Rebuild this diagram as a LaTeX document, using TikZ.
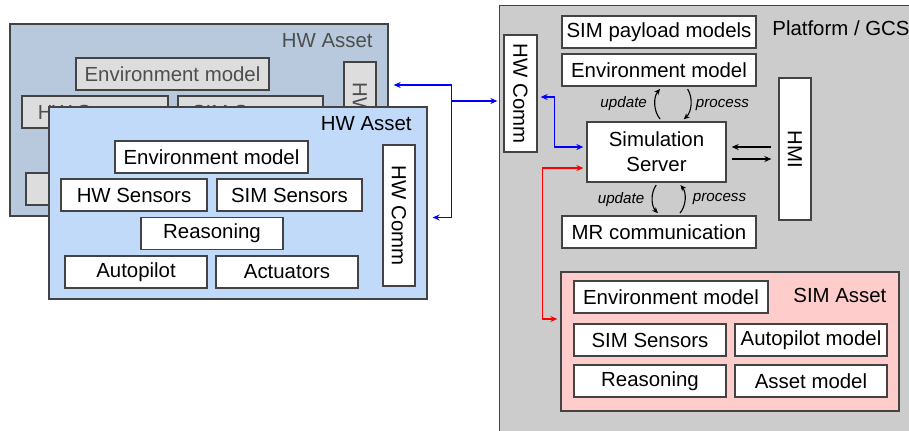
\documentclass[tikz,border=0pt]{standalone}
\usepackage{fontspec}
\setmainfont{Liberation Sans}
\usepackage{graphicx}
\usetikzlibrary{arrows.meta,positioning,calc}
\definecolor{hwBlue}{RGB}{193,218,249}
\definecolor{hwShade}{RGB}{184,201,222}
\definecolor{simPink}{RGB}{255,204,204}
\definecolor{gcsGrey}{RGB}{204,204,204}
\definecolor{boxGrey}{RGB}{221,221,221}
\definecolor{lineInk}{RGB}{67,67,67}
\definecolor{inkSoft}{RGB}{78,78,78}
\definecolor{linkBlue}{RGB}{0,0,255}
\definecolor{linkRed}{RGB}{255,0,0}

\begin{document}
\begin{tikzpicture}[x=0.5pt,y=-0.5pt,
  font=\fontsize{10.2}{12.5}\selectfont,
  panel/.style={draw=lineInk,line width=0.65pt,inner sep=0pt},
  blk/.style={draw=lineInk,fill=white,line width=0.65pt,inner sep=0pt,
              minimum height=16pt,align=center},
  ghost/.style={blk,fill=boxGrey,text=inkSoft},
  tag/.style={inner sep=0pt},
  lbl/.style={inner sep=0pt,font=\fontsize{7.6}{9}\selectfont\itshape},
  link/.style={{Stealth[length=3.5pt,width=3pt]}-{Stealth[length=3.5pt,width=3pt]},
               line width=0.7pt,shorten <=1.5pt,shorten >=1.5pt},
  arr/.style={-{Stealth[length=3.5pt,width=3pt]},line width=0.7pt},
  cyc/.style={-{Stealth[length=3pt,width=2.6pt]},line width=0.55pt,
              shorten <=1.5pt,shorten >=1.5pt}]
\useasboundingbox (0,0) rectangle (909,430);
\clip (0,0) rectangle (909,430);

% HW asset behind (mostly covered)
\node[panel,fill=hwShade,minimum width=189pt,minimum height=96pt] (hwBack) at (199,120) {};
\node[tag,anchor=east,text=inkSoft] (hwBackTag) at (373,41) {HW Asset};
\node[ghost,minimum width=96.5pt] (bEnv) at (172.5,74) {Environment model};
\node[ghost,minimum width=73pt] (bHWS) at (95,112) {HW Sensors};
\node[ghost,minimum width=72.5pt] (bSIMS) at (250.5,112) {SIM Sensors};
\node[ghost,minimum width=71pt] (bAuto) at (97,189) {};
\node[ghost,minimum width=16pt,minimum height=70.5pt] (bComm) at (360,132.5) {\rotatebox{-90}{HW Comm}};

% HW asset in front
\node[panel,fill=hwBlue,minimum width=189pt,minimum height=96pt] (hwFront) at (238,203) {};
\node[tag,anchor=east] (hwFrontTag) at (412,124) {HW Asset};
\node[blk,minimum width=96.5pt] (fEnv) at (211.5,157) {Environment model};
\node[blk,minimum width=73pt] (fHWS) at (134,195) {HW Sensors};
\node[blk,minimum width=72.5pt] (fSIMS) at (289.5,195) {SIM Sensors};
\node[blk,minimum width=71pt] (fReas) at (212,233.5) {Reasoning};
\node[blk,minimum width=71pt] (fAuto) at (136,272) {Autopilot};
\node[blk,minimum width=71pt] (fAct) at (287,272) {Actuators};
\node[blk,minimum width=16pt,minimum height=70.5pt] (fComm) at (399,215.5) {\rotatebox{-90}{HW Comm}};

% platform / GCS
\node[panel,fill=gcsGrey,minimum width=210pt,minimum height=218pt,anchor=north west] (gcs) at (499,5) {};
\node[tag,anchor=west] (gcsTag) at (772,28) {Platform / GCS};
\node[blk,minimum width=16.5pt,minimum height=58.5pt] (hwcP) at (520.5,93.5) {\rotatebox{-90}{HW Comm}};
\node[blk,minimum width=97pt] (payload) at (659,32) {SIM payload models};
\node[blk,minimum width=97pt] (envP) at (659,70) {Environment model};
\node[blk,minimum width=69.5pt,minimum height=30pt] (server) at (656.5,152) {Simulation\\Server};
\node[blk,minimum width=16pt,minimum height=71pt] (hmi) at (795,149) {\rotatebox{-90}{HMI}};
\node[blk,minimum width=97pt] (mrc) at (659,232) {MR communication};

% SIM asset
\node[panel,fill=simPink,minimum width=169pt,minimum height=69.5pt] (simA) at (730,341.5) {};
\node[tag,anchor=west] (simTag) at (793,295) {SIM Asset};
\node[blk,minimum width=97pt] (sEnv) at (671,297) {Environment model};
\node[blk,minimum width=76pt] (sSens) at (650,340) {SIM Sensors};
\node[blk,minimum width=76pt] (sAuto) at (811,340) {Autopilot model};
\node[blk,minimum width=76pt] (sReas) at (650,381) {Reasoning};
\node[blk,minimum width=76pt] (sAsset) at (811,381) {Asset model};

% update / process loops
\draw[cyc] ([xshift=2.75pt]server.north) to[bend left=40]
  node[lbl,left=4pt] (updUp) {update} ([xshift=1.5pt]envP.south);
\draw[cyc] ([xshift=13.5pt]envP.south) to[bend left=40]
  node[lbl,right=2.5pt] (procUp) {process} ([xshift=12.5pt]server.north);
\draw[cyc] ([xshift=0.75pt]server.south) to[bend right=40]
  node[lbl,left=4pt] (updDn) {update} ([xshift=0.5pt]mrc.north);
\draw[cyc] ([xshift=9.5pt]mrc.north) to[bend right=40]
  node[lbl,right=4pt] (procDn) {process} ([xshift=11pt]server.south);

% server <-> HMI
\coordinate (hU) at ([yshift=2.5pt]server.east);
\coordinate (hD) at ([yshift=-3.5pt]server.east);
\draw[arr,shorten <=3.5pt,shorten >=2.5pt] (hU -| hmi.west) -- (hU);
\draw[arr,shorten <=2.5pt,shorten >=3.5pt] (hD) -- (hD -| hmi.west);

% HW links
\coordinate (split) at ([xshift=-26pt,yshift=-3.75pt]hwcP.west);
\draw[arr,linkBlue,shorten >=3pt] (split) -- (split -| hwcP.west);
\draw[arr,linkBlue,shorten >=2.5pt] (split) |- ([yshift=17.5pt]hwBack.east);
\draw[arr,linkBlue,shorten >=2.5pt] (split) |- ([yshift=-7.25pt]hwFront.east);
\draw[link,linkBlue] ([yshift=-1.75pt]hwcP.east) -- ++(17,0) |- ([yshift=2.5pt]server.west);
\draw[link,linkRed] ([yshift=-8pt]server.west) -- ++(-44,0) |- ([yshift=11.25pt]simA.west);
\end{tikzpicture}
\end{document}
